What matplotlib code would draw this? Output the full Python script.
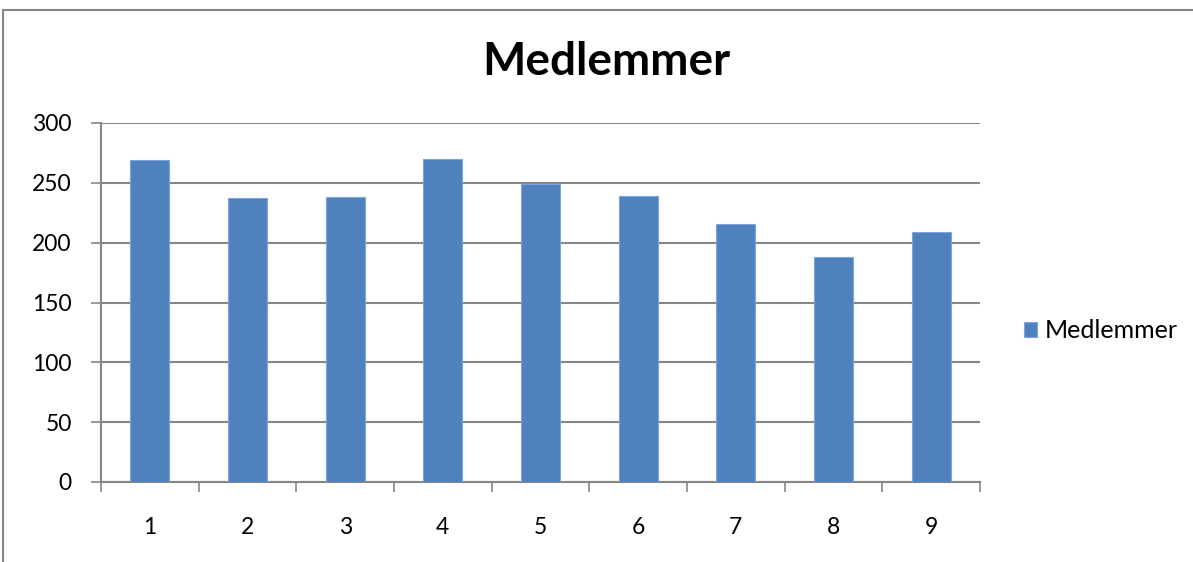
import matplotlib
matplotlib.use("Agg")
import matplotlib.pyplot as plt
from matplotlib.lines import Line2D

categories = ["1", "2", "3", "4", "5", "6", "7", "8", "9"]
values = [269, 237, 238, 270, 249, 239, 216, 188, 209]
yticks = [0, 50, 100, 150, 200, 250, 300]
series_name = "Medlemmer"
title = "Medlemmer"

W, H = 1193, 562
fig = plt.figure(figsize=(W / 100, H / 100), dpi=100)
plt.rcParams['font.family'] = ['Lato', 'DejaVu Sans']

# outer chart border (partially clipped)
fig.add_artist(Line2D([3 / W, 1.2], [1 - 10 / H, 1 - 10 / H], transform=fig.transFigure,
                      color="#868686", lw=1.5))
fig.add_artist(Line2D([3 / W, 3 / W], [1 - 10 / H, -0.1], transform=fig.transFigure,
                      color="#868686", lw=1.5))

left, right, top, bottom = 101, 980, 123, 482
ax = fig.add_axes([left / W, 1 - bottom / H, (right - left) / W, (bottom - top) / H])

x = list(range(len(categories)))
bars = ax.bar(x, values, width=0.4, color="#4F81BD", edgecolor="#7FA5D6", linewidth=0.8,
              label=series_name, zorder=3)

ax.set_xlim(-0.5, len(categories) - 0.5)
ax.set_ylim(0, 300)
ax.set_yticks(yticks)
ax.set_yticklabels([str(t) for t in yticks], fontsize=16.5)
ax.yaxis.grid(True, color="#868686", lw=1.5, zorder=0)
ax.set_axisbelow(True)

ax.set_xticks([i - 0.5 for i in range(len(categories) + 1)])
ax.set_xticklabels([])
ax.set_xticks(x, minor=True)
ax.set_xticklabels(categories, minor=True, fontsize=16.5)
ax.tick_params(axis="x", which="major", length=7, color="#868686", width=1.2, direction="out")
ax.tick_params(axis="x", which="minor", length=0, pad=25)
ax.tick_params(axis="y", length=7, color="#868686", width=1.2, pad=14)

for s in ["top", "right"]:
    ax.spines[s].set_visible(False)
for s in ["left", "bottom"]:
    ax.spines[s].set_color("#868686")
    ax.spines[s].set_linewidth(1.5)

fig.text(606 / W, 1 - 62 / H, title, ha="center", va="center", fontsize=33, fontweight="bold")

leg = fig.legend(handles=[bars], labels=[series_name], loc="center left",
                 bbox_to_anchor=(1011 / W, 1 - 331 / H), frameon=False, fontsize=18,
                 handlelength=0.55, handleheight=0.55, handletextpad=0.3, borderpad=0)

fig.savefig("out.png", dpi=100, facecolor="white")
